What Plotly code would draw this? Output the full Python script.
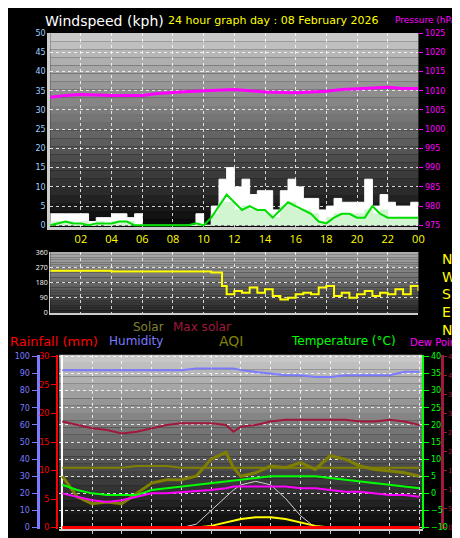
import plotly.graph_objects as go

hours = [i*0.5 for i in range(49)]
gust = [3,3,3,3,3,1,2,2,3,3,2,3,0,0,0,0,0,0,0,3,0,5,12,15,10,12,8,9,9,4,9,12,10,7,7,4,5,7,6,6,6,12,5,8,6,5,5,6,5]
wind = [1,1,1,0,1,0,1,0,1,1,1,0,0,0,0,0,0,0,0,0,0,3,6,6,4,5,4,4,3,2,5,6,4,4,3,1,2,3,3,3,3,4,3,4,2,2,2,2,2]
avgw = [0,0.5,1,0.5,0.5,0,0.5,0.5,0.5,1,1,0,0,0,0,0,0,0,0,0.5,0,2,5,8,6,4,5,4,4,2,4,6,5,4,3,1,0.5,2,3,3,2,2,5,3,2,2,2,2,2]
p_h = [0,1,2,4,6,7,9,12,14,16,18,19,22,23,24]
pressure = [1008.3,1008.8,1009,1008.8,1008.8,1009.3,1009.8,1010.3,1009.7,1009.5,1009.9,1010.3,1010.9,1010.6,1010.6]
d_h = [0,4,8,10.5,11.2,11.5,12,12.5,13,13.5,14,14.5,15,15.5,16,16.5,17,17.5,18,18.5,19,19.5,20,20.5,21,21.5,22,22.5,23,23.5,24]
direction = [250,245,245,240,160,110,130,120,150,120,140,100,80,90,110,120,110,150,160,100,120,90,110,130,100,120,110,140,110,160,130]
b_h = [0,1,2,3,4,5,6,7,8,9,10,11,11.5,12,13,14,15,16,17,18,19,20,21,22,23,24]
humidity = [92,92,92,92,92,92,92,92,92,93,93,93,93,92,91,90,89,89,88,88,89,89,89,89,91,91]
maxsolar_line = [62,60,58,57,55,56,58,60,61,61,61,60,56,59,60,62,63,63,63,63,63,62,62,63,62,60]
aqi = [30,18,14,15,14,20,26,28,28,30,40,44,35,30,32,36,35,38,34,42,40,36,34,33,32,30]
aqi_ref = [35,35,35,35,35,36,36,36,35,35,35,35,35,35,35,35,35,35,35,35,35,35,35,35,35,35]
temp = [2.5,1,0,-0.5,-0.5,-0.5,1,1.5,2,2.5,3,3.5,3.8,4,4.5,5,5,5,5,4.5,4,3.5,3,2.5,2,1.5]
dew = [0,-1,-2,-2.5,-2,-1,0,0,0.3,0.5,1,1.5,2,2,2,2,2,1.5,1.5,1,0.5,0.5,0,-0.5,-0.5,-1]
solar = [0,0,0,0,0,0,0,0,0,0,1,3,4,5,6,6,5,3,1,0,0,0,0,0,0,0]
maxsolar = [0,0,0,0,0,0,0,0,0,2,10,18,22,25,27,25,17,7,0,0,0,0,0,0,0,0]
rain = [0]*26
xt = [2,4,6,8,10,12,14,16,18,20,22,24]
xl = ["02","04","06","08","10","12","14","16","18","20","22","00"]

fig = go.Figure()
fig.add_trace(go.Scatter(x=hours, y=gust, mode="lines", line=dict(color="white", width=1, shape="hv"), fill="tozeroy", fillcolor="white", xaxis="x", yaxis="y"))
fig.add_trace(go.Scatter(x=hours, y=wind, mode="lines", line=dict(color="#d0f5d0", width=1, shape="hv"), fill="tozeroy", fillcolor="#d0f5d0", xaxis="x", yaxis="y"))
fig.add_trace(go.Scatter(x=hours, y=avgw, mode="lines", line=dict(color="#00dd00", width=2), xaxis="x", yaxis="y"))
fig.add_trace(go.Scatter(x=p_h, y=pressure, mode="lines", line=dict(color="#ff00ff", width=3), xaxis="x", yaxis="y2"))
fig.add_trace(go.Scatter(x=d_h, y=direction, mode="lines", line=dict(color="yellow", width=2, shape="hv"), xaxis="x2", yaxis="y3"))
for y, c, w, ax in [(humidity,"#7b7bff",2,"y4"),(maxsolar_line,"#a0183c",2,"y4"),(aqi_ref,"#808000",2,"y4"),(aqi,"#808000",3,"y4"),
                    (maxsolar,"#d0d0d0",1,"y4"),(solar,"yellow",2,"y4"),(temp,"#00ff00",2,"y6"),(dew,"#ff00ff",2,"y6"),(rain,"red",3,"y5")]:
    fig.add_trace(go.Scatter(x=b_h, y=y, mode="lines", line=dict(color=c, width=w), xaxis="x3", yaxis=ax))

shapes = []
def grad(xr, yr, top, bot, n=24):
    for i in range(n):
        f = i/(n-1)
        g = int(top + (bot-top)*f)
        shapes.append(dict(type="rect", xref=xr+" domain", yref=yr+" domain", x0=0, x1=1,
                           y0=1-(i+1)/n, y1=1-i/n, fillcolor=f"rgb({g},{g},{g})", line=dict(width=0), layer="below"))
grad("x","y",200,10); grad("x2","y3",170,40); grad("x3","y4",200,10)

tf = dict(size=8, family="DejaVu Sans")
grid = dict(gridcolor="rgba(255,255,255,0.8)", griddash="dot", gridwidth=1)
fig.update_layout(
    width=460, height=538, margin=dict(l=0, r=0, t=0, b=0), paper_bgcolor="black", plot_bgcolor="black",
    showlegend=False, shapes=shapes,
    xaxis=dict(domain=[0.093,0.904], range=[0,24], tickvals=xt, ticktext=xl, tickfont=dict(color="yellow", size=11), anchor="y",
               showline=True, linecolor="#ccc", linewidth=3, ticks="", **grid),
    yaxis=dict(domain=[0.595,0.962], range=[-0.5,50], dtick=5, tickfont=dict(color="#9fd0ff", **tf), showline=True, linecolor="#ccc", linewidth=3, zeroline=False, **grid),
    yaxis2=dict(overlaying="y", side="right", range=[974.5,1025], dtick=5, tickfont=dict(color="#ff00ff", **tf), showgrid=False, zeroline=False, ticks="outside", tickcolor="#ff00ff", ticklen=4, anchor="x"),
    xaxis2=dict(domain=[0.093,0.904], range=[0,24], showticklabels=False, anchor="y3", tickvals=xt, showline=True, linecolor="#ccc", linewidth=2, **grid),
    yaxis3=dict(domain=[0.433,0.548], range=[0,360], tickvals=[0,90,180,270,360], tickfont=dict(color="white", size=7), showline=True, linecolor="#ccc", zeroline=False, **grid),
    xaxis3=dict(domain=[0.113,0.913], range=[-0.2,24.2], showticklabels=False, anchor="y4", tickvals=xt, ticks="outside", ticklen=3, tickcolor="#ccc",
                showline=True, linecolor="#ccc", linewidth=2, **grid),
    yaxis4=dict(domain=[0.024,0.354], range=[-1,101], dtick=10, tickfont=dict(color="#7b7bff", **tf), anchor="free", position=0.065, showline=True, linecolor="#7b7bff", linewidth=3, ticks="outside", tickcolor="#7b7bff", zeroline=False, **grid),
    yaxis5=dict(overlaying="y4", range=[-0.3,30.3], dtick=5, tickfont=dict(color="red", **tf), anchor="free", position=0.108, showline=True, linecolor="red", linewidth=2, ticks="outside", tickcolor="red", showgrid=False, zeroline=False),
    yaxis6=dict(overlaying="y4", side="right", range=[-10.5,40.5], dtick=5, tickfont=dict(color="#00ff00", **tf), anchor="free", position=0.915, showline=True, linecolor="#00ff00", linewidth=2, ticks="outside", tickcolor="#00ff00", showgrid=False, zeroline=False),
    yaxis7=dict(overlaying="y4", side="right", range=[-0.5,45.5], dtick=5, tickfont=dict(color="#a0183c", size=7, family="DejaVu Sans"), anchor="free", position=0.955, showline=True, linecolor="#a0183c", linewidth=3, ticks="outside", ticklen=3, tickcolor="#a0183c", showgrid=False, zeroline=False),
)
fig.add_trace(go.Scatter(x=[None], y=[None], mode="lines", xaxis="x3", yaxis="y7"))
ann = [("Windspeed (kph)",35,8,"white",14,"left"),("24 hour graph day : 08 February 2026",160,8,"yellow",11,"left"),("Pressure (hPa)",460,7,"#ff00ff",9,"right"),
       ("N",438,250,"yellow",14,"left"),("W",438,268,"yellow",14,"left"),("S",438,286,"yellow",14,"left"),("E",438,304,"yellow",14,"left"),("N",438,322,"yellow",14,"left"),
       ("Rainfall (mm)",0,334,"red",13,"left"),("Humidity",100,334,"#7b7bff",12,"left"),("Max solar",165,319,"#a0183c",12,"left"),("Solar",125,319,"#808030",12,"left"),
       ("AQI",212,334,"#808000",14,"left"),("Temperature (°C)",285,334,"#00ff00",12,"left"),("Dew Point",460,335,"#ff00ff",10,"right")]
for t,x,y,c,s,a in ann:
    fig.add_annotation(text=t, x=x/460, y=1-y/538, xref="paper", yref="paper", xanchor=a, yanchor="middle", showarrow=False,
                       font=dict(color=c, size=s, family="DejaVu Sans"))
fig.write_html("out.html")
